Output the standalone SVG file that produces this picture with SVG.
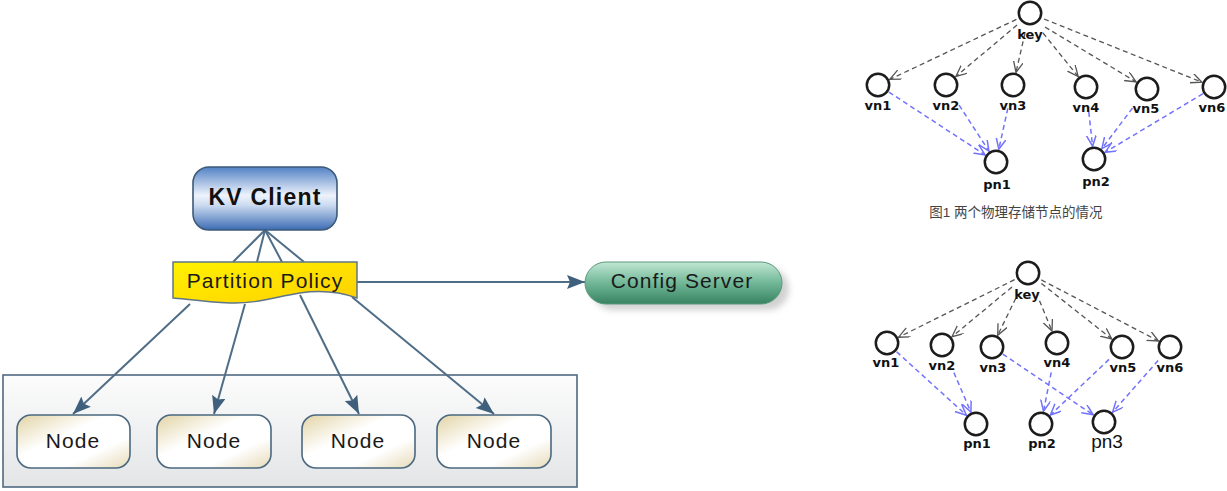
<svg xmlns="http://www.w3.org/2000/svg" width="1227" height="491" viewBox="0 0 1227 491">
<style>
.lbl{font-family:"Liberation Sans",Arial,sans-serif;font-size:21px;fill:#1a1a1a;letter-spacing:1.1px;text-anchor:middle}
.kv{font-family:"Liberation Sans",Arial,sans-serif;font-size:23px;font-weight:bold;fill:#111;letter-spacing:1.2px;text-anchor:middle}
.node{fill:url(#nodeG);stroke:#4a6880;stroke-width:1.6}
.conn{stroke:#4f6d86;stroke-width:2;fill:none}
.arr{marker-end:url(#fillArr)}
.c{fill:#fff;stroke:#1c1c1c;stroke-width:2.5}
.t{font-family:"DejaVu Sans",sans-serif;font-size:13px;font-weight:bold;fill:#111;text-anchor:middle}
.g{stroke:#555;stroke-width:1.3;stroke-dasharray:5 3.5;fill:none;marker-end:url(#vG)}
.b{stroke:#7272ff;stroke-width:1.5;stroke-dasharray:5 3.5;fill:none;marker-end:url(#vB)}
</style>
<defs>
<linearGradient id="kvG" x1="0" y1="0" x2="0" y2="1">
<stop offset="0" stop-color="#5282c6"/><stop offset="0.45" stop-color="#eef3fb"/><stop offset="0.6" stop-color="#cddcf1"/><stop offset="1" stop-color="#3c6cb4"/>
</linearGradient>
<linearGradient id="ppG" x1="0" y1="0" x2="1" y2="1">
<stop offset="0" stop-color="#fff200"/><stop offset="1" stop-color="#ffd000"/>
</linearGradient>
<linearGradient id="csG" x1="0" y1="0" x2="0" y2="1">
<stop offset="0" stop-color="#c2e7d4"/><stop offset="0.5" stop-color="#70b797"/><stop offset="1" stop-color="#388262"/>
</linearGradient>
<linearGradient id="nodeG" x1="0" y1="0" x2="1" y2="1">
<stop offset="0" stop-color="#e2d4a6"/><stop offset="0.4" stop-color="#ffffff"/><stop offset="0.7" stop-color="#ffffff"/><stop offset="1" stop-color="#e6dab8"/>
</linearGradient>
<linearGradient id="boxG" x1="0" y1="0" x2="0" y2="1">
<stop offset="0" stop-color="#fcfcfc"/><stop offset="1" stop-color="#e3e5e7"/>
</linearGradient>
<filter id="sh" x="-20%" y="-40%" width="150%" height="200%">
<feGaussianBlur stdDeviation="3"/>
</filter>
<marker id="fillArr" markerUnits="userSpaceOnUse" markerWidth="20" markerHeight="16" refX="18" refY="7" orient="auto">
<path d="M0,0 L18,7 L0,14 L3,7 z" fill="#3f607c"/>
</marker>
<marker id="vG" markerUnits="userSpaceOnUse" markerWidth="13" markerHeight="12" refX="11" refY="5" orient="auto">
<path d="M0,0 L11,5 L0,10" fill="none" stroke="#555" stroke-width="1.3"/>
</marker>
<marker id="vB" markerUnits="userSpaceOnUse" markerWidth="13" markerHeight="12" refX="11" refY="5" orient="auto">
<path d="M0,0 L11,5 L0,10" fill="none" stroke="#7272ff" stroke-width="1.5"/>
</marker>
</defs>

<g id="container">
<rect x="3" y="375" width="574" height="112" fill="url(#boxG)" stroke="#4f6a80" stroke-width="1.6"/>
</g>

<g id="connectors-left">
<line class="conn" x1="265" y1="230" x2="233" y2="262"/>
<line class="conn" x1="265" y1="230" x2="257" y2="262"/>
<line class="conn" x1="265" y1="230" x2="282" y2="262"/>
<line class="conn" x1="265" y1="230" x2="304" y2="262"/>
<line class="conn arr" x1="357" y1="282" x2="585" y2="282"/>
<line class="conn arr" x1="190" y1="304" x2="73" y2="414"/>
<line class="conn arr" x1="245" y1="304" x2="214" y2="414"/>
<line class="conn arr" x1="300" y1="295" x2="359" y2="414"/>
<line class="conn arr" x1="352" y1="297" x2="494" y2="414"/>
</g>

<g id="kv-client">
<rect x="193" y="167" width="144" height="63" rx="16" fill="url(#kvG)" stroke="#3d5a78" stroke-width="1.6"/>
<text class="kv" x="265" y="205">KV Client</text>
</g>

<g id="partition-policy">
<path d="M173,262 H357 V298 C340,292 320,290 300,293 C275,297 255,304 230,303 C205,302 185,299 173,298 Z" fill="url(#ppG)" stroke="#5f7588" stroke-width="1.5"/>
<text class="lbl" x="265" y="288">Partition Policy</text>
</g>

<g id="config-server">
<rect x="592" y="268" width="197" height="42" rx="21" fill="#9a9a9a" opacity="0.45" filter="url(#sh)"/>
<rect x="585" y="262" width="197" height="42" rx="21" fill="url(#csG)" stroke="#5a9a7e" stroke-width="1"/>
<text class="lbl" x="682" y="288">Config Server</text>
</g>

<g id="node1"><rect class="node" x="17" y="415" width="113" height="53" rx="14"/><text class="lbl" x="73" y="448">Node</text></g>
<g id="node2"><rect class="node" x="157" y="415" width="114" height="53" rx="14"/><text class="lbl" x="214" y="448">Node</text></g>
<g id="node3"><rect class="node" x="302" y="415" width="113" height="53" rx="14"/><text class="lbl" x="358" y="448">Node</text></g>
<g id="node4"><rect class="node" x="437" y="415" width="114" height="53" rx="14"/><text class="lbl" x="494" y="448">Node</text></g>

<g id="connectors-fig1">
<line class="g" x1="1016.4" y1="19.4" x2="889.8" y2="79.4"/>
<line class="g" x1="1017" y1="25" x2="955.9" y2="76.5"/>
<line class="g" x1="1025" y1="33" x2="1016" y2="72.4"/>
<line class="g" x1="1043" y1="33" x2="1078.2" y2="76.6"/>
<line class="g" x1="1045" y1="27" x2="1136.1" y2="81.9"/>
<line class="g" x1="1044" y1="19" x2="1201.9" y2="82.2"/>
<line class="b" x1="888.9" y1="92.1" x2="985.1" y2="154.9"/>
<line class="b" x1="959.1" y1="105.1" x2="988.9" y2="151.1"/>
<line class="b" x1="1007.8" y1="108.4" x2="998.8" y2="149.3"/>
<line class="b" x1="1088.8" y1="111.9" x2="1092.6" y2="146.1"/>
<line class="b" x1="1132.5" y1="108.1" x2="1101.9" y2="148.6"/>
<line class="b" x1="1202.9" y1="93.7" x2="1105.1" y2="152.3"/>
</g>

<g id="f1-key"><circle class="c" cx="1030" cy="13" r="11.2"/><text class="t" x="1030" y="39">key</text></g>
<g id="f1-vn1"><circle class="c" cx="878" cy="85" r="11.2"/><text class="t" x="878" y="110">vn1</text></g>
<g id="f1-vn2"><circle class="c" cx="946" cy="85" r="11.2"/><text class="t" x="946" y="110">vn2</text></g>
<g id="f1-vn3"><circle class="c" cx="1013" cy="85" r="11.2"/><text class="t" x="1013" y="110">vn3</text></g>
<g id="f1-vn4"><circle class="c" cx="1086" cy="87" r="11.2"/><text class="t" x="1086" y="112">vn4</text></g>
<g id="f1-vn5"><circle class="c" cx="1147" cy="89" r="11.2"/><text class="t" x="1146" y="113">vn5</text></g>
<g id="f1-vn6"><circle class="c" cx="1214" cy="87" r="11.2"/><text class="t" x="1212" y="112">vn6</text></g>
<g id="f1-pn1"><circle class="c" cx="996" cy="162" r="11.2"/><text class="t" x="997" y="189">pn1</text></g>
<g id="f1-pn2"><circle class="c" cx="1094" cy="159" r="11.2"/><text class="t" x="1096" y="186">pn2</text></g>

<g id="caption">
<text x="1016" y="217" text-anchor="middle" font-family="'Liberation Sans','Noto Sans CJK SC',sans-serif" font-size="13.5" fill="#444">图1 两个物理存储节点的情况</text>
</g>

<g id="connectors-fig2">
<line class="g" x1="1014.6" y1="279.7" x2="898.6" y2="337.2"/>
<line class="g" x1="1012" y1="287" x2="952" y2="336.7"/>
<line class="g" x1="1015.8" y1="298.2" x2="997.7" y2="335.3"/>
<line class="g" x1="1039.5" y1="300.7" x2="1052" y2="331"/>
<line class="g" x1="1041.4" y1="283.5" x2="1111.8" y2="339"/>
<line class="g" x1="1041.3" y1="279.9" x2="1158.5" y2="341"/>
<line class="b" x1="896.6" y1="351.8" x2="966.4" y2="415.2"/>
<line class="b" x1="953.9" y1="372.6" x2="970.9" y2="412.1"/>
<line class="b" x1="1002.8" y1="354.2" x2="1093.2" y2="414.8"/>
<line class="b" x1="1051.2" y1="372.4" x2="1043.5" y2="411.2"/>
<line class="b" x1="1109" y1="359.4" x2="1050.4" y2="415"/>
<line class="b" x1="1158.1" y1="360.5" x2="1112.6" y2="412.2"/>
</g>

<g id="f2-key"><circle class="c" cx="1028" cy="273" r="11.2"/><text class="t" x="1027" y="299">key</text></g>
<g id="f2-vn1"><circle class="c" cx="887" cy="343" r="11.2"/><text class="t" x="886" y="367">vn1</text></g>
<g id="f2-vn2"><circle class="c" cx="942" cy="345" r="11.2"/><text class="t" x="942" y="370">vn2</text></g>
<g id="f2-vn3"><circle class="c" cx="992" cy="347" r="11.2"/><text class="t" x="993" y="372">vn3</text></g>
<g id="f2-vn4"><circle class="c" cx="1057" cy="343" r="11.2"/><text class="t" x="1057" y="367">vn4</text></g>
<g id="f2-vn5"><circle class="c" cx="1122" cy="347" r="11.2"/><text class="t" x="1123" y="372">vn5</text></g>
<g id="f2-vn6"><circle class="c" cx="1170" cy="347" r="11.2"/><text class="t" x="1170" y="372">vn6</text></g>
<g id="f2-pn1"><circle class="c" cx="976" cy="424" r="11.2"/><text class="t" x="977" y="448">pn1</text></g>
<g id="f2-pn2"><circle class="c" cx="1041" cy="424" r="11.2"/><text class="t" x="1042" y="448">pn2</text></g>
<g id="f2-pn3"><circle class="c" cx="1104" cy="422" r="11.2"/><text x="1107" y="448" text-anchor="middle" font-family="'Liberation Sans',Arial,sans-serif" font-size="19" fill="#111">pn3</text></g>
</svg>
